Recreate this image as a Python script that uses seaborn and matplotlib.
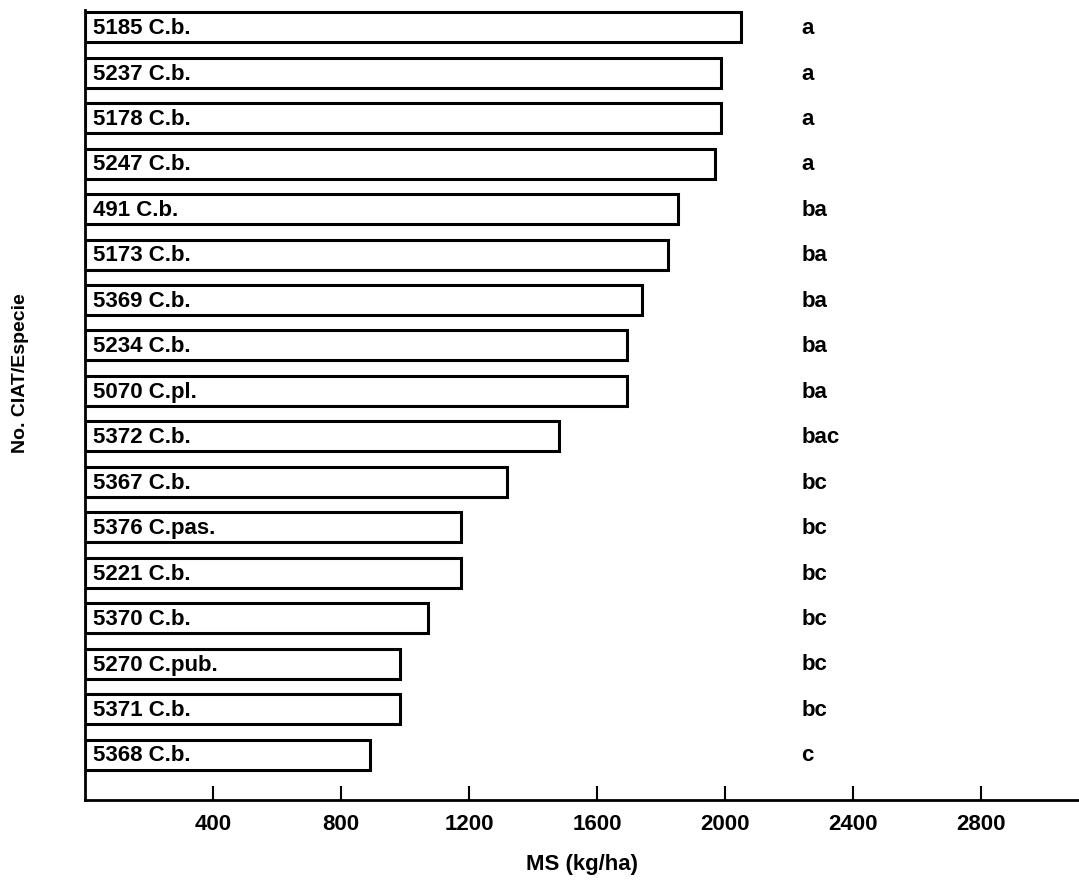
import matplotlib
matplotlib.use("Agg")
import matplotlib.pyplot as plt
import seaborn as sns
import pandas as pd

accessions = ["5185 C.b.", "5237 C.b.", "5178 C.b.", "5247 C.b.", "491 C.b.",
              "5173 C.b.", "5369 C.b.", "5234 C.b.", "5070 C.pl.", "5372 C.b.",
              "5367 C.b.", "5376 C.pas.", "5221 C.b.", "5370 C.b.", "5270 C.pub.",
              "5371 C.b.", "5368 C.b."]
ms_kg_ha = [2050, 1986, 1986, 1969, 1853, 1822, 1740, 1694, 1694, 1482,
            1319, 1176, 1176, 1073, 984, 984, 891]
groups = ["a", "a", "a", "a", "ba", "ba", "ba", "ba", "ba", "bac",
          "bc", "bc", "bc", "bc", "bc", "bc", "c"]
xticks = [400, 800, 1200, 1600, 2000, 2400, 2800]

sns.set_theme(style="white")
plt.rcParams['font.family'] = ['Liberation Sans', 'DejaVu Sans']
plt.rcParams['text.color'] = 'black'
plt.rcParams['axes.labelcolor'] = 'black'
plt.rcParams['xtick.color'] = 'black'
plt.rcParams['ytick.color'] = 'black'

df = pd.DataFrame({"acc": accessions, "ms": ms_kg_ha})

fig = plt.figure(figsize=(10.79, 8.88), dpi=100)
ax = fig.add_axes([85/1079, 1 - 800/888, 1 - 85/1079, 790/888])

sns.barplot(data=df, x="ms", y="acc", color="white", edgecolor="black",
            linewidth=2.2, width=0.66, saturation=1, ax=ax, orient="h")

FS = 16
for i, (lab, g) in enumerate(zip(accessions, groups)):
    ax.text(25, i + 0.03, lab, ha="left", va="center", fontsize=FS,
            fontweight="bold", color="black")
    ax.text(2238, i + 0.03, g, ha="left", va="center", fontsize=FS,
            fontweight="bold", color="black")

ax.set_xlim(0, 3105)
ax.set_ylim(17.0, -0.38)
ax.set_xticks(xticks)
ax.set_xticklabels([str(t) for t in xticks], fontsize=FS, fontweight="bold")
ax.set_yticks([])
ax.tick_params(axis="x", direction="in", length=10, width=1.5, color="black",
               pad=10, bottom=True)
for s in ["top", "right"]:
    ax.spines[s].set_visible(False)
for s in ["left", "bottom"]:
    ax.spines[s].set_color("black")
    ax.spines[s].set_linewidth(2)

ax.set_xlabel("MS (kg/ha)", fontsize=FS, fontweight="bold", labelpad=14)
ax.set_ylabel("No. CIAT/Especie", fontsize=14, fontweight="bold", labelpad=40,
              y=0.54)

fig.savefig("out.png", dpi=100)
